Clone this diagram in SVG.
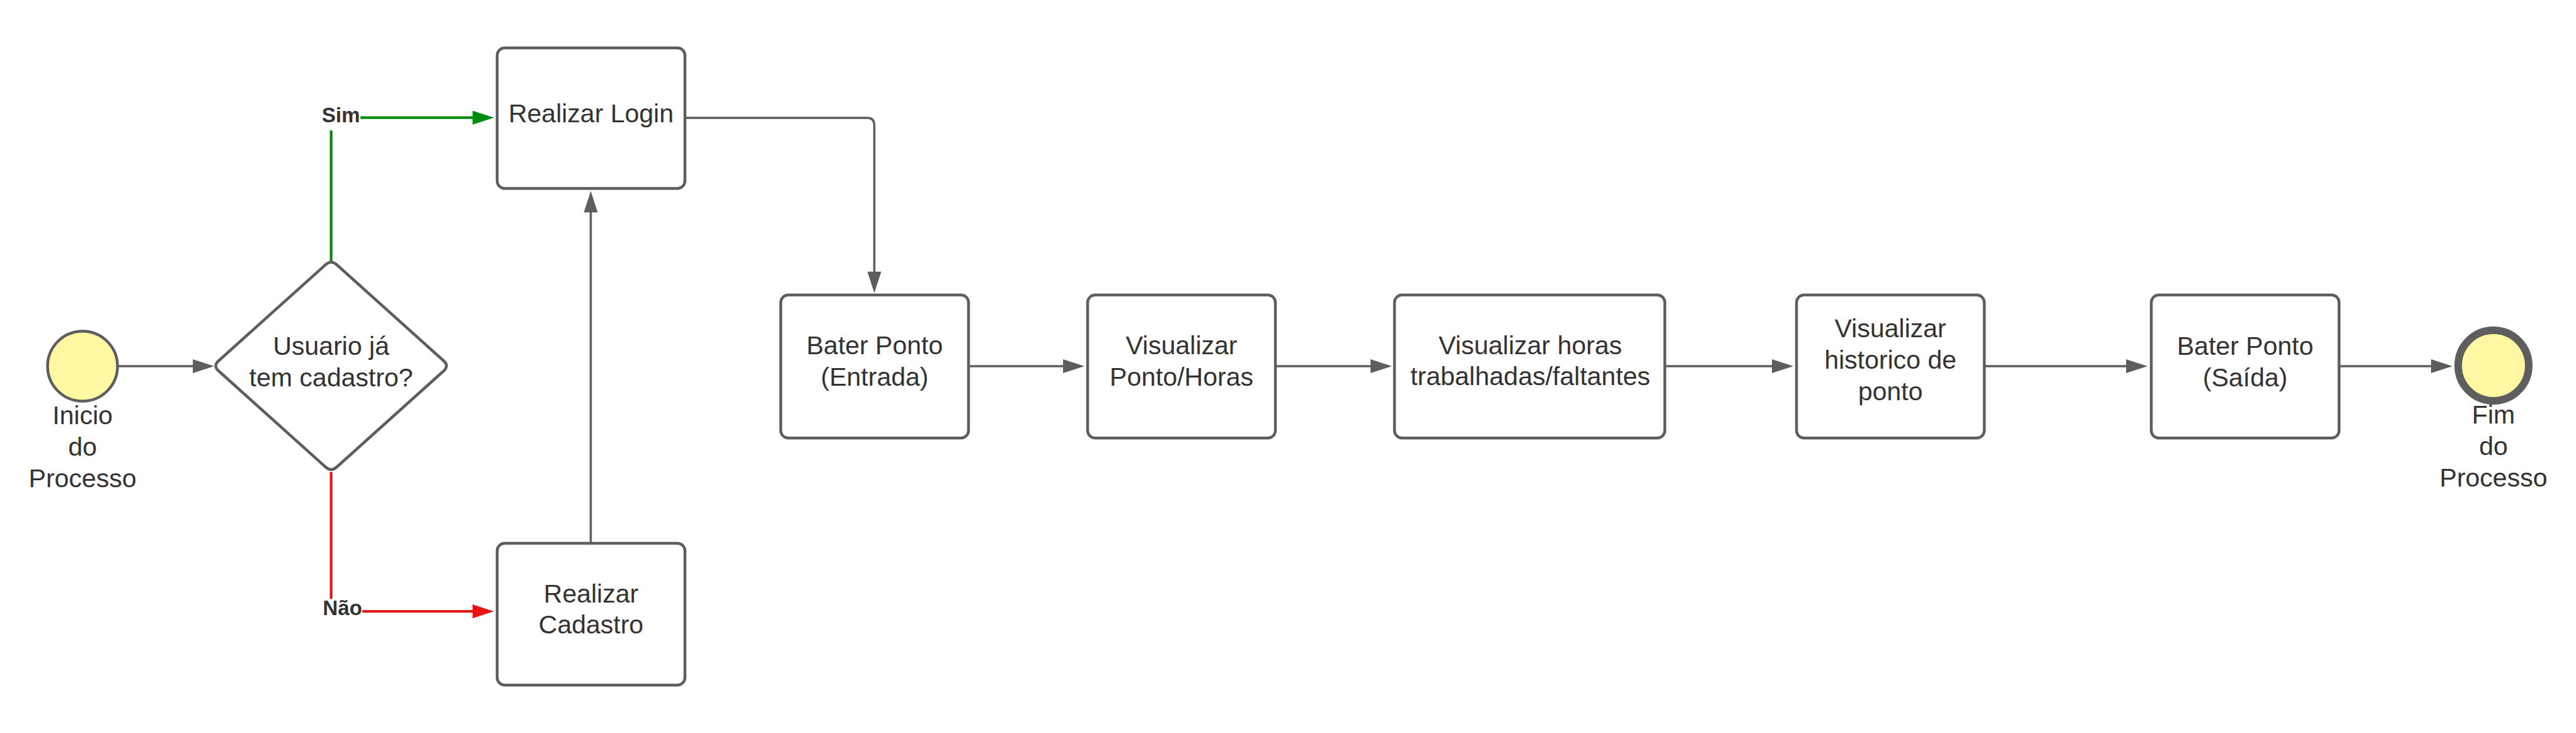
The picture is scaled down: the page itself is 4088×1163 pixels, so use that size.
<svg xmlns="http://www.w3.org/2000/svg" width="4088" height="1163" viewBox="0 0 4088 1163">
<style>
.bg{fill:#ffffff}
.box{fill:#ffffff;stroke:#5e5e5e;stroke-width:4.5}
.start{fill:#fff7a1;stroke:#5e5e5e;stroke-width:4.5}
.end{fill:#fff7a1;stroke:#5e5e5e;stroke-width:12}
.t{font-family:"Liberation Sans",Arial,sans-serif;font-size:41px;fill:#333333;text-anchor:middle}
.lbl{font-family:"Liberation Sans",Arial,sans-serif;font-size:33px;font-weight:bold;fill:#333333;text-anchor:middle}
.c{fill:none;stroke:#5e5e5e;stroke-width:3.5}
.cg{fill:none;stroke:#008a0e;stroke-width:4.2}
.cr{fill:none;stroke:#e81313;stroke-width:4.2}
.mask{fill:#ffffff}
</style>
<defs>
<marker id="ag" viewBox="0 0 34 22" markerWidth="34" markerHeight="22" markerUnits="userSpaceOnUse" refX="2" refY="11" orient="auto"><path d="M0,0 L34,11 L0,22 Z" fill="#5e5e5e"/></marker>
<marker id="agr" viewBox="0 0 34 22" markerWidth="34" markerHeight="22" markerUnits="userSpaceOnUse" refX="2" refY="11" orient="auto"><path d="M0,0 L34,11 L0,22 Z" fill="#008a0e"/></marker>
<marker id="ar" viewBox="0 0 34 22" markerWidth="34" markerHeight="22" markerUnits="userSpaceOnUse" refX="2" refY="11" orient="auto"><path d="M0,0 L34,11 L0,22 Z" fill="#e81313"/></marker>
</defs>
<rect class="bg" x="0" y="0" width="4088" height="1163"/>
<g id="connectors">
<path class="c" d="M188,581 H308" marker-end="url(#ag)"/>
<g id="conn-sim">
<path class="cg" d="M525.5,416 V186.7 H752" marker-end="url(#agr)"/>
<rect class="mask" x="509" y="162" width="63" height="45"/>
<text class="lbl" x="541" y="193.5">Sim</text>
</g>
<g id="conn-nao">
<path class="cr" d="M525.5,749 V970 H752" marker-end="url(#ar)"/>
<rect class="mask" x="511" y="950" width="64" height="40"/>
<text class="lbl" x="543.5" y="976">Não</text>
</g>
<path class="c" d="M937.5,862 V335" marker-end="url(#ag)"/>
<path class="c" d="M1087,187 H1376 Q1387.5,187 1387.5,198.5 V433" marker-end="url(#ag)"/>
<path class="c" d="M1538,581 H1689" marker-end="url(#ag)"/>
<path class="c" d="M2025,581 H2177" marker-end="url(#ag)"/>
<path class="c" d="M2643,581 H2814" marker-end="url(#ag)"/>
<path class="c" d="M3150,581 H3376" marker-end="url(#ag)"/>
<path class="c" d="M3712,581 H3860" marker-end="url(#ag)"/>
</g>
<g id="inicio">
<circle class="start" cx="131" cy="581" r="55.5"/>
<text class="t" x="131" y="673">Inicio</text>
<text class="t" x="131" y="723">do</text>
<text class="t" x="131" y="773">Processo</text>
</g>
<g id="decisao">
<path class="box" d="M516.6,420 Q525.5,412 534.4,420 L704.1,572.5 Q713,580.5 704.1,588.5 L534.4,741 Q525.5,749 516.6,741 L346.9,588.5 Q338,580.5 346.9,572.5 Z"/>
<text class="t" x="525.5" y="563">Usuario já</text>
<text class="t" x="525.5" y="613">tem cadastro?</text>
</g>
<g id="login">
<rect class="box" x="789" y="76" width="298" height="223" rx="12"/>
<text class="t" x="938" y="194">Realizar Login</text>
</g>
<g id="cadastro">
<rect class="box" x="789" y="862" width="298" height="225" rx="12"/>
<text class="t" x="938" y="956">Realizar</text>
<text class="t" x="938" y="1005">Cadastro</text>
</g>
<g id="bater-entrada">
<rect class="box" x="1239" y="468" width="298" height="227" rx="12"/>
<text class="t" x="1388" y="562">Bater Ponto</text>
<text class="t" x="1388" y="612">(Entrada)</text>
</g>
<g id="vis-ponto">
<rect class="box" x="1726" y="468" width="298" height="227" rx="12"/>
<text class="t" x="1875" y="562">Visualizar</text>
<text class="t" x="1875" y="612">Ponto/Horas</text>
</g>
<g id="vis-horas">
<rect class="box" x="2213" y="468" width="429" height="227" rx="12"/>
<text class="t" x="2428.5" y="562">Visualizar horas</text>
<text class="t" x="2428.5" y="611">trabalhadas/faltantes</text>
</g>
<g id="historico">
<rect class="box" x="2851" y="468" width="298" height="227" rx="12"/>
<text class="t" x="3000" y="535">Visualizar</text>
<text class="t" x="3000" y="585">historico de</text>
<text class="t" x="3000" y="635">ponto</text>
</g>
<g id="bater-saida">
<rect class="box" x="3414" y="468" width="298" height="227" rx="12"/>
<text class="t" x="3563" y="563">Bater Ponto</text>
<text class="t" x="3563" y="613">(Saída)</text>
</g>
<g id="fim">
<circle class="end" cx="3957" cy="580" r="56"/>
<text class="t" x="3957" y="672">Fim</text>
<text class="t" x="3957" y="722">do</text>
<text class="t" x="3957" y="772">Processo</text>
</g>
</svg>
